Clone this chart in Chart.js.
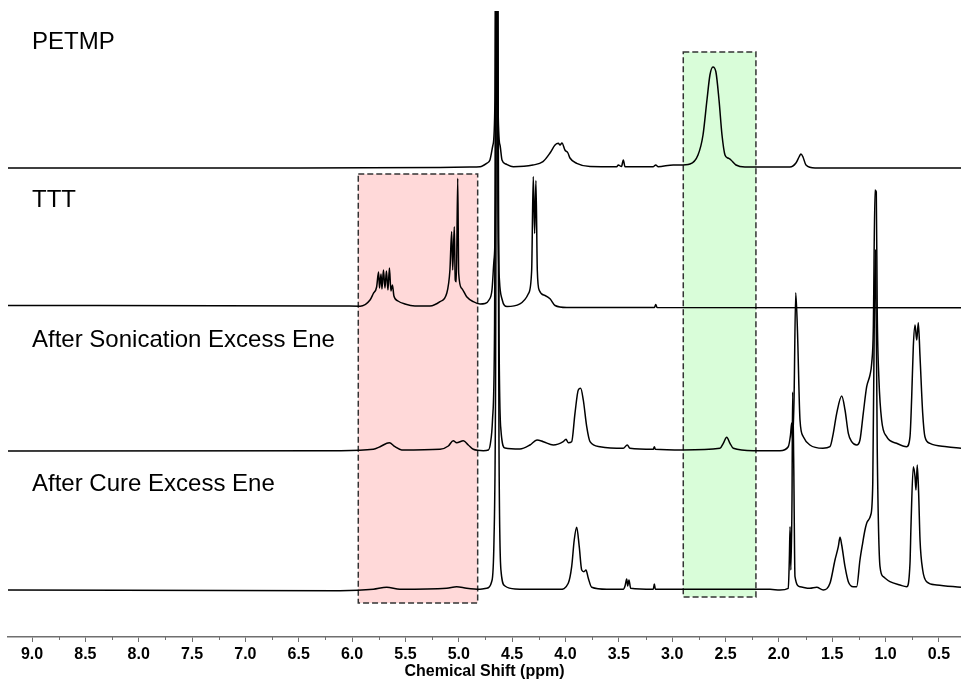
<!DOCTYPE html>
<html>
<head>
<meta charset="utf-8">
<title>1H NMR stack</title>
<script src="https://cdn.jsdelivr.net/npm/chart.js@4.4.1/dist/chart.umd.min.js"></script>
<style>
    html, body { margin: 0; padding: 0; background: #fff; }
    #wrap { width: 961px; height: 681px; }
</style>
</head>
<body>
<div id="wrap"><canvas id="nmrChart" width="961" height="681"></canvas></div>
<script>
// -- Data (shift in ppm, intensity above each trace's own baseline) --
const TRACE_NAMES = ['PETMP', 'TTT', 'After Sonication Excess Ene', 'After Cure Excess Ene'];
const TRACE_OFFSETS = [469, 329.5, 187, 47];

const PETMP = [
    [9.225, 0], [6.488, 0], [5.176, 0.5], [4.895, 1], [4.801, 1.3], [4.739, 4.7], [4.708, 8], [4.680, 23],
    [4.661, 68], [4.645, 700], [4.633, 68], [4.614, 23], [4.595, 8], [4.558, 4], [4.489, 1.3], [4.305, 3],
    [4.211, 6.3], [4.145, 15], [4.098, 23], [4.067, 24.7], [4.051, 23], [4.033, 25], [4.005, 18], [3.977, 15],
    [3.958, 10], [3.895, 4.7], [3.770, 1.5], [3.520, 1.3], [3.505, 3], [3.475, 1.5], [3.458, 8], [3.442, 1.3],
    [3.177, 1.3], [3.154, 3], [3.133, 1.3], [2.990, 3], [2.927, 3], [2.833, 4], [2.758, 13], [2.711, 33],
    [2.674, 68], [2.646, 93], [2.618, 101], [2.590, 96], [2.561, 68], [2.533, 33], [2.505, 13], [2.477, 10],
    [2.449, 8], [2.402, 3], [2.318, 1], [1.896, 1], [1.840, 5], [1.811, 11], [1.793, 14], [1.774, 11],
    [1.746, 3], [1.661, 0], [0.293, 0]
];

const TTT = [
    [9.225, 2], [6.113, 1.5], [5.925, 1.3], [5.832, 7.5], [5.801, 14], [5.770, 20.5], [5.752, 35.5], [5.743, 19.5],
    [5.729, 33.5], [5.720, 18.5], [5.706, 37.5], [5.692, 19.5], [5.678, 36.5], [5.664, 17.5], [5.650, 39.5],
    [5.636, 16.5], [5.622, 22.5], [5.608, 11.5], [5.570, 6.5], [5.505, 3.5], [5.411, 1.5], [5.270, 1.5],
    [5.176, 5.8], [5.113, 14.2], [5.083, 37.5], [5.067, 75.8], [5.057, 37.5], [5.042, 80.8], [5.033, 27.5],
    [5.023, 25.8], [5.010, 129.2], [5.001, 34.2], [4.973, 19.2], [4.926, 10.8], [4.864, 5.8], [4.801, 3.5],
    [4.755, 4], [4.717, 7.5], [4.689, 17.5], [4.670, 47.5], [4.656, 107.5], [4.645, 700], [4.633, 107.5],
    [4.619, 27.5], [4.595, 8.5], [4.548, 1], [4.427, 3.7], [4.348, 13.7], [4.317, 37], [4.302, 131],
    [4.289, 74], [4.277, 127], [4.264, 37], [4.245, 17], [4.192, 12], [4.145, 8.7], [4.098, 2], [3.989, 0],
    [3.166, 0], [3.154, 3], [3.142, 0], [0.293, -0.3]
];

const SONICATION = [
    [9.225, -1], [6.113, -0.7], [5.801, 0.7], [5.738, 3.3], [5.651, 7.3], [5.598, 3.3], [5.535, 0], [5.176, 0.7],
    [5.098, 4], [5.052, 9.3], [5.020, 7.3], [4.957, 9.3], [4.911, 5], [4.864, 0.7], [4.770, -0.7], [4.723, 0],
    [4.703, 7], [4.684, 30], [4.665, 120], [4.645, 700], [4.623, 120], [4.605, 20], [4.567, 2], [4.427, 1],
    [4.333, 5], [4.267, 10], [4.208, 8.3], [4.114, 5], [4.021, 8.3], [3.995, 10.7], [3.974, 7.3], [3.942, 8.3],
    [3.911, 36.7], [3.880, 60], [3.858, 61.7], [3.833, 50], [3.801, 23.3], [3.770, 8.3], [3.677, 3.3],
    [3.458, 1.7], [3.421, 5], [3.396, 1.7], [3.177, 0.7], [3.167, 3.3], [3.158, 0.7], [2.896, 0], [2.552, 1.7],
    [2.521, 6.7], [2.489, 12.7], [2.458, 6.7], [2.427, 1.7], [2.240, -0.7], [1.990, -0.7], [1.912, 3.3],
    [1.891, 15], [1.880, 27], [1.871, 10], [1.858, 50], [1.842, 157.3], [1.826, 120], [1.802, 30], [1.771, 13.3],
    [1.709, 5], [1.587, 1.7], [1.521, 3.3], [1.490, 16.7], [1.458, 36.7], [1.411, 54], [1.380, 40], [1.349, 16.7],
    [1.318, 8.3], [1.271, 5], [1.240, 10], [1.209, 36.7], [1.177, 63.3], [1.146, 75], [1.130, 86.7], [1.115, 120],
    [1.099, 260], [1.087, 258], [1.078, 137], [1.062, 70], [1.037, 30], [0.990, 13.3], [0.896, 6.7], [0.802, 3.3],
    [0.771, 13.3], [0.755, 53.3], [0.740, 103.3], [0.724, 125], [0.708, 110], [0.693, 127.3], [0.677, 93.3],
    [0.652, 36.7], [0.631, 13.3], [0.584, 6.7], [0.427, 3.3], [0.293, 1.7]
];

const CURE = [
    [9.225, 0], [6.113, -0.7], [5.801, 0.7], [5.676, 2.7], [5.551, 0.7], [5.113, 1.7], [5.020, 3.3], [4.926, 1.7],
    [4.801, 0.7], [4.739, 1.7], [4.692, 8.3], [4.670, 50], [4.656, 190], [4.642, 700], [4.623, 140], [4.605, 20],
    [4.567, 4], [4.473, 1], [4.239, 0.7], [4.052, 0.7], [3.974, 6.7], [3.942, 23.3], [3.918, 50], [3.895, 62.7],
    [3.871, 43.3], [3.848, 20], [3.827, 18.3], [3.808, 20], [3.786, 11.7], [3.754, 2.7], [3.614, 0.7],
    [3.458, 0.7], [3.442, 4], [3.426, 11], [3.417, 4], [3.405, 10], [3.389, 1.7], [3.177, 0.7], [3.167, 6],
    [3.158, 0.7], [2.083, 0.7], [1.990, 0], [1.912, 1.7], [1.902, 30], [1.895, 63.3], [1.888, 20], [1.877, 90],
    [1.871, 198], [1.861, 130], [1.849, 13.3], [1.802, 3.3], [1.709, 1.7], [1.646, 2.7], [1.584, 0], [1.521, 6.7],
    [1.474, 30], [1.443, 43.3], [1.427, 52.7], [1.411, 45], [1.380, 23.3], [1.349, 8.3], [1.302, 3.3],
    [1.271, 3.3], [1.240, 30], [1.215, 46.7], [1.193, 60], [1.171, 68.3], [1.139, 75], [1.120, 106.7],
    [1.104, 290], [1.094, 340], [1.078, 140], [1.052, 23.3], [1.021, 13.3], [0.959, 8.3], [0.865, 5],
    [0.802, 3.3], [0.771, 26.7], [0.762, 63.3], [0.740, 123.3], [0.724, 113.3], [0.715, 100], [0.703, 125],
    [0.690, 96.7], [0.677, 50], [0.652, 20], [0.615, 8.3], [0.521, 5], [0.293, 2.7]
];

const TRACES = [PETMP, TTT, SONICATION, CURE];

// highlighted regions: ppm span and vertical span (same units as the stacked intensity)
const BOX_SHIFTS = [[5.942, 4.823], [2.896, 2.215]];
const BOX_LEVELS = [[34, 463], [40, 585]];

const X_MIN = 0.293;
const X_MAX = 9.225;

// -- Styles --
const FONT = '"Liberation Sans", Arial, sans-serif';
const BOX_FILLS = ['#ffd9d9', '#d9fdd9'];
const BOX_EDGE = '#333333';
const AXIS_GREY = '#6f6f6f';
const LABEL_LEVELS = [588, 430, 290, 146]; // text baselines, in y units

// -- Plugins --
const highlightBoxes = {
    id: 'highlightBoxes',
    beforeDatasetsDraw(chart) {
        const { ctx, scales: { x, y } } = chart;
        ctx.save();
        BOX_SHIFTS.forEach((span, i) => {
            const left = x.getPixelForValue(span[0]);
            const right = x.getPixelForValue(span[1]);
            const top = y.getPixelForValue(BOX_LEVELS[i][1]);
            const bottom = y.getPixelForValue(BOX_LEVELS[i][0]);
            ctx.fillStyle = BOX_FILLS[i];
            ctx.fillRect(left, top, right - left, bottom - top);
            ctx.setLineDash([6, 3]);
            ctx.lineWidth = 1.5;
            ctx.strokeStyle = BOX_EDGE;
            ctx.strokeRect(left, top, right - left, bottom - top);
        });
        ctx.restore();
    }
};

const traceLabels = {
    id: 'traceLabels',
    afterDatasetsDraw(chart) {
        const { ctx, chartArea, scales: { y } } = chart;
        ctx.save();
        ctx.fillStyle = '#000';
        ctx.font = `24px ${FONT}`;
        ctx.textAlign = 'left';
        ctx.textBaseline = 'alphabetic';
        TRACE_NAMES.forEach((name, i) => {
            ctx.fillText(name, chartArea.left + 24, y.getPixelForValue(LABEL_LEVELS[i]));
        });
        ctx.restore();
    }
};

// minor ticks every 0.25 ppm (Chart.js only draws one tick length)
const minorTicks = {
    id: 'minorTicks',
    afterDraw(chart) {
        const { ctx, scales: { x } } = chart;
        ctx.save();
        ctx.strokeStyle = AXIS_GREY;
        ctx.lineWidth = 1;
        for (let v = 0.75; v < X_MAX; v += 0.5) {
            const px = Math.round(x.getPixelForValue(v)) + 0.5;
            ctx.beginPath();
            ctx.moveTo(px, x.top);
            ctx.lineTo(px, x.top + 3);
            ctx.stroke();
        }
        ctx.restore();
    }
};

// -- Chart --
const datasets = TRACES.map((trace, i) => ({
    label: TRACE_NAMES[i],
    data: trace.map(p => ({ x: p[0], y: p[1] + TRACE_OFFSETS[i] })),
    borderColor: '#000',
    borderWidth: 1.5,
    pointRadius: 0,
    cubicInterpolationMode: 'monotone', // smooth the peak shapes without overshoot
    fill: false
}));

new Chart(document.getElementById('nmrChart'), {
    type: 'line',
    data: { datasets },
    options: {
        responsive: false,
        animation: false,
        devicePixelRatio: 1,
        layout: { padding: { left: 8, right: 0, top: 11, bottom: 0 } },
        plugins: {
            legend: { display: false },
            tooltip: { enabled: false }
        },
        scales: {
            x: {
                type: 'linear',
                reverse: true,
                min: X_MIN,
                max: X_MAX,
                afterFit: (scale) => { scale.height = 44; },
                border: { display: true, color: AXIS_GREY, width: 1.5 },
                grid: {
                    drawOnChartArea: false,
                    drawTicks: true,
                    tickLength: 5,
                    tickColor: AXIS_GREY
                },
                ticks: {
                    stepSize: 0.5,
                    includeBounds: false,
                    maxRotation: 0,
                    autoSkip: false,
                    padding: 3,
                    color: '#000',
                    font: { family: FONT, size: 16, weight: 'bold' },
                    callback: (v) => Number(v).toFixed(1)
                },
                title: {
                    display: true,
                    text: 'Chemical Shift (ppm)',
                    color: '#000',
                    padding: { top: 0, bottom: 0 },
                    font: { family: FONT, size: 16, weight: 'bold', lineHeight: 1.2 }
                }
            },
            y: {
                display: false,
                min: 0,
                max: 626
            }
        }
    },
    plugins: [highlightBoxes, traceLabels, minorTicks]
});
</script>
</body>
</html>
